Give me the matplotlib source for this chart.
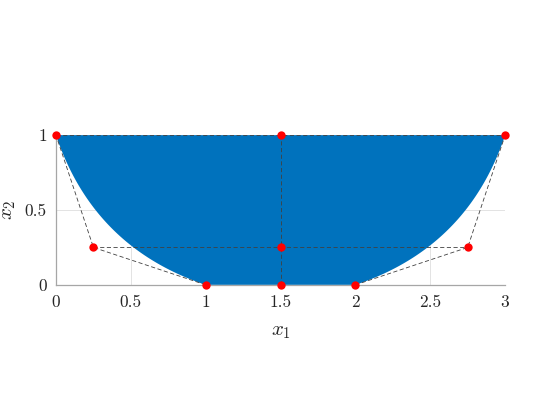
import numpy as np
import matplotlib

matplotlib.use("Agg")
import matplotlib.pyplot as plt

# control net: rows go bottom -> middle -> top, columns left -> middle -> right
ctrl_x = np.array([
    [1.0, 1.5, 2.0],
    [0.25, 1.5, 2.75],
    [0.0, 1.5, 3.0],
])
ctrl_y = np.array([
    [0.0, 0.0, 0.0],
    [0.25, 0.25, 0.25],
    [1.0, 1.0, 1.0],
])
x_ticks = [0, 0.5, 1, 1.5, 2, 2.5, 3]
y_ticks = [0, 0.5, 1]

BLUE = "#0072BD"

plt.rcParams["font.family"] = "serif"
plt.rcParams["font.serif"] = ["cmr10", "DejaVu Serif"]
plt.rcParams["mathtext.fontset"] = "cm"
plt.rcParams["axes.formatter.use_mathtext"] = True


def bezier2(p0, p1, p2, n=200):
    t = np.linspace(0.0, 1.0, n)
    return (1 - t) ** 2 * p0 + 2 * t * (1 - t) * p1 + t ** 2 * p2


# boundary of the surface: left column, bottom row, right column, top row
left_x = bezier2(*ctrl_x[::-1, 0])
left_y = bezier2(*ctrl_y[::-1, 0])
right_x = bezier2(*ctrl_x[:, 2])
right_y = bezier2(*ctrl_y[:, 2])
bx = np.concatenate([left_x, right_x, ctrl_x[2, ::-1]])
by = np.concatenate([left_y, right_y, ctrl_y[2, ::-1]])

fig = plt.figure(figsize=(5.6, 4.2), dpi=100)
ax = fig.add_axes([0.1, 0.3214, 0.802, 0.3572])

ax.fill(bx, by, color=BLUE, linewidth=0, zorder=1)

net_style = dict(color="#404040", linestyle=(0, (5, 3)), linewidth=0.6, zorder=2)
for i in range(3):
    ax.plot(ctrl_x[i, :], ctrl_y[i, :], **net_style)
    ax.plot(ctrl_x[:, i], ctrl_y[:, i], **net_style)
ax.plot(ctrl_x.ravel(), ctrl_y.ravel(), "o", color="red", markersize=6,
        markeredgewidth=0, zorder=3, clip_on=False)

ax.set_xlim(0, 3)
ax.set_ylim(0, 1)
ax.set_aspect("equal")
ax.set_xticks(x_ticks)
ax.set_yticks(y_ticks)
ax.set_xticklabels([f"{v:g}" for v in x_ticks])
ax.set_yticklabels([f"{v:g}" for v in y_ticks])
ax.tick_params(direction="in", length=0, labelcolor="#262626", labelsize=12.5)
ax.tick_params(axis="x", pad=7)
ax.tick_params(axis="y", pad=6.7)
ax.set_axisbelow(True)
ax.grid(True, color="#e3e3e3", linewidth=0.7)
for side in ("top", "right"):
    ax.spines[side].set_visible(False)
for side in ("left", "bottom"):
    ax.spines[side].set_color("#a6a6a6")
    ax.spines[side].set_linewidth(0.9)

ax.set_xlabel(r"$x_1$", fontsize=15, labelpad=9.5, color="#262626")
ax.set_ylabel(r"$x_2$", fontsize=15, labelpad=5, color="#262626")

fig.savefig("out.png", dpi=100, facecolor="white")
plt.close(fig)
